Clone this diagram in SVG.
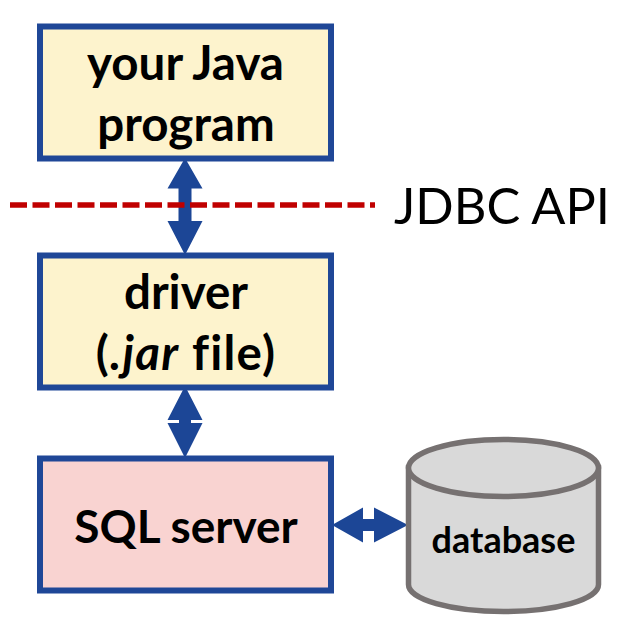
<svg xmlns="http://www.w3.org/2000/svg" width="626" height="633" viewBox="0 0 626 633">
<style>
text{font-family:Lato,"Open Sans","Liberation Sans",sans-serif;fill:#000;font-variant-ligatures:none}
.b{font-weight:700;font-size:47.500px;text-anchor:middle}
.box{stroke:#1f4797;stroke-width:6}
.arr{fill:#1c4696}
</style>
<rect width="626" height="633" fill="#fff"/>
<g id="connectors">
<path class="arr" d="M185 158L202.500 188.500H191.500V221H202.500L185 255L167.500 221H178.500V188.500H167.500Z"/>
<path class="arr" d="M185 386L202.500 420H191V423H202.500L185 458L167.500 423H179V420H167.500Z"/>
<path class="arr" d="M332 525L363 507.500V519H374V507.500L408 525L374 542.500V531H363V542.500Z"/>
<path d="M10 205H375" fill="none" stroke="#c00000" stroke-width="5.500" stroke-dasharray="17 5.500"/>
</g>
<g id="java"><rect class="box" x="40" y="26.500" width="291" height="132" fill="#fdf3cd"/><text class="b" x="185.500" y="80">your Java</text><text class="b" x="186" y="141">program</text></g>
<g id="driver"><rect class="box" x="40" y="255.500" width="291" height="132" fill="#fdf3cd"/><text class="b" x="186" y="309">driver</text><text class="b" x="186" y="370" letter-spacing="1.200">(<tspan font-style="italic">.jar</tspan> file)</text></g>
<g id="sql"><rect class="box" x="40" y="458.500" width="291" height="132" fill="#f9d3d1"/><text class="b" x="186" y="543" style="font-size:46px">SQL server</text></g>
<g id="database"><path d="M408.500 468V584.500A95 27 0 0 0 598.500 584.500V468Z" fill="#d9d9d9" stroke="#767171" stroke-width="5.500"/><ellipse cx="503.500" cy="468" rx="95" ry="28.500" fill="#d9d9d9" stroke="#767171" stroke-width="5.500"/><text x="503.500" y="553" font-size="36" font-weight="700" text-anchor="middle">database</text></g>
<g id="api"><text x="394" y="224" font-size="50.500">JDBC API</text></g>
</svg>
